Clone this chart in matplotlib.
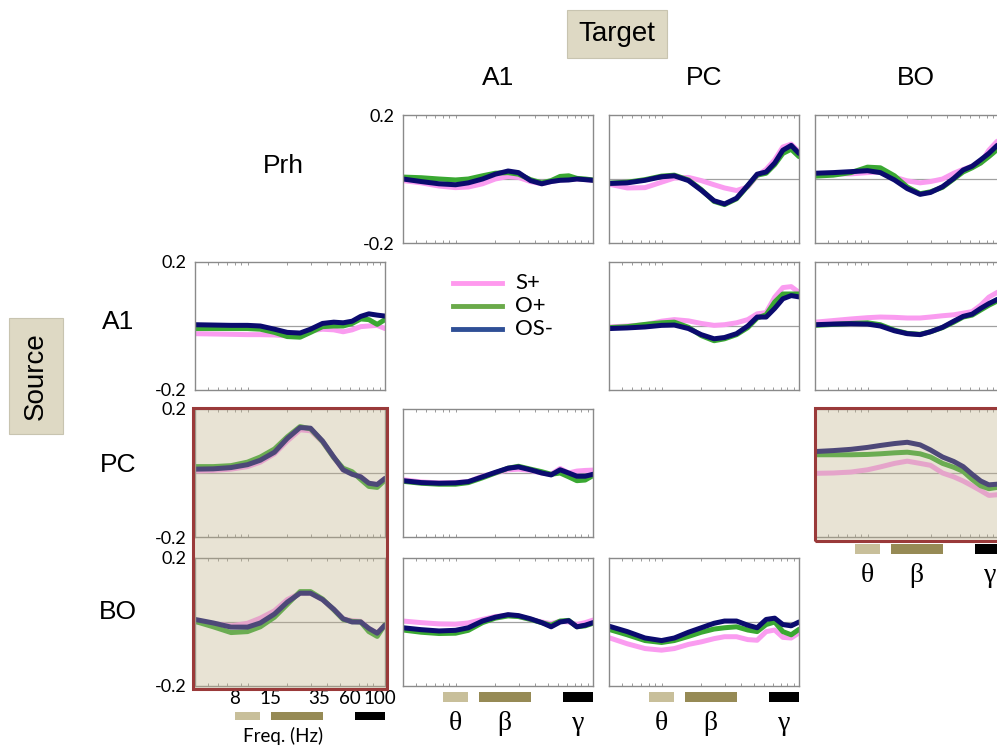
import matplotlib
matplotlib.use("Agg")
import matplotlib.pyplot as plt
import matplotlib.patches as mpatches
from matplotlib.lines import Line2D

# frequency grid (Hz) shared by every curve
freqs = [4, 5.5, 7.5, 10, 12.5, 16, 20, 25, 30, 37, 45, 53, 62, 72, 83, 96, 110]

# source Prh
prh_a1_s = [-0.005, -0.012, -0.022, -0.027, -0.025, -0.015, 0.0, 0.008, 0.005, -0.008, -0.015, -0.008, -0.003, -0.002, 0.0, -0.002, -0.005]
prh_a1_o = [0.006, 0.004, 0.0, -0.003, 0.0, 0.01, 0.018, 0.02, 0.015, -0.002, -0.012, -0.005, 0.008, 0.01, 0.002, 0.0, -0.003]
prh_a1_os = [0.0, -0.008, -0.015, -0.018, -0.012, 0.0, 0.015, 0.025, 0.02, -0.005, -0.015, -0.008, -0.004, -0.003, 0.0, -0.002, -0.004]

prh_pc_s = [-0.016, -0.028, -0.027, -0.01, 0.003, 0.005, -0.005, -0.018, -0.028, -0.036, -0.025, 0.01, 0.03, 0.06, 0.1, 0.109, 0.085]
prh_pc_o = [-0.013, -0.01, -0.002, 0.009, 0.012, -0.003, -0.033, -0.07, -0.08, -0.062, -0.022, 0.012, 0.018, 0.045, 0.08, 0.093, 0.07]
prh_pc_os = [-0.014, -0.012, -0.004, 0.007, 0.01, -0.005, -0.035, -0.068, -0.078, -0.06, -0.02, 0.015, 0.022, 0.05, 0.09, 0.105, 0.08]

prh_bo_s = [0.016, 0.016, 0.016, 0.02, 0.022, 0.006, -0.006, -0.012, -0.008, 0.0, 0.018, 0.03, 0.04, 0.05, 0.09, 0.118, 0.12]
prh_bo_o = [0.009, 0.012, 0.02, 0.037, 0.035, 0.01, -0.025, -0.046, -0.04, -0.026, 0.0, 0.022, 0.035, 0.05, 0.07, 0.092, 0.1]
prh_bo_os = [0.018, 0.02, 0.023, 0.026, 0.02, -0.003, -0.03, -0.048, -0.042, -0.024, 0.002, 0.028, 0.04, 0.06, 0.08, 0.105, 0.11]

# source A1
a1_prh_s = [-0.024, -0.025, -0.026, -0.027, -0.027, -0.028, -0.031, -0.03, -0.015, -0.01, -0.012, -0.018, -0.012, -0.002, 0.0, 0.002, -0.008]
a1_prh_o = [-0.008, -0.008, -0.008, -0.008, -0.01, -0.02, -0.033, -0.035, -0.02, -0.002, 0.0, 0.0, 0.008, 0.022, 0.02, 0.005, 0.02]
a1_prh_os = [0.004, 0.003, 0.002, 0.002, 0.0, -0.01, -0.02, -0.022, -0.01, 0.008, 0.012, 0.01, 0.015, 0.03, 0.038, 0.034, 0.031]

a1_pc_s = [-0.003, 0.0, 0.004, 0.015, 0.02, 0.016, 0.008, 0.002, 0.004, 0.01, 0.02, 0.038, 0.042, 0.09, 0.12, 0.123, 0.105]
a1_pc_o = [-0.005, -0.002, 0.005, 0.01, 0.012, -0.004, -0.03, -0.046, -0.04, -0.027, -0.005, 0.025, 0.035, 0.075, 0.1, 0.1, 0.1]
a1_pc_os = [-0.008, -0.006, -0.003, 0.002, 0.003, -0.008, -0.027, -0.04, -0.036, -0.024, 0.0, 0.028, 0.028, 0.055, 0.085, 0.095, 0.091]

a1_bo_s = [0.012, 0.017, 0.022, 0.026, 0.028, 0.027, 0.025, 0.025, 0.028, 0.032, 0.035, 0.04, 0.045, 0.065, 0.09, 0.105, 0.11]
a1_bo_o = [0.002, 0.005, 0.008, 0.01, 0.004, -0.013, -0.023, -0.026, -0.018, -0.005, 0.012, 0.028, 0.034, 0.05, 0.065, 0.078, 0.085]
a1_bo_os = [0.004, 0.006, 0.007, 0.006, 0.0, -0.015, -0.024, -0.027, -0.018, -0.004, 0.015, 0.03, 0.037, 0.055, 0.07, 0.083, 0.09]

# source PC
pc_prh_s = [0.006, 0.008, 0.012, 0.02, 0.034, 0.06, 0.1, 0.135, 0.132, 0.097, 0.048, 0.01, -0.002, -0.012, -0.032, -0.036, -0.017]
pc_prh_o = [0.02, 0.02, 0.023, 0.034, 0.05, 0.075, 0.113, 0.145, 0.138, 0.098, 0.048, 0.015, 0.004, -0.02, -0.042, -0.045, -0.022]
pc_prh_os = [0.012, 0.013, 0.017, 0.026, 0.04, 0.065, 0.108, 0.142, 0.14, 0.1, 0.05, 0.01, -0.004, -0.012, -0.032, -0.036, -0.017]

pc_a1_s = [-0.021, -0.028, -0.031, -0.03, -0.027, -0.01, 0.0, 0.01, 0.012, 0.008, 0.0, -0.004, 0.014, 0.0, 0.006, 0.008, 0.009]
pc_a1_o = [-0.026, -0.032, -0.035, -0.035, -0.03, -0.015, 0.0, 0.015, 0.021, 0.012, 0.004, -0.004, 0.0, -0.012, -0.024, -0.022, -0.008]
pc_a1_os = [-0.024, -0.03, -0.032, -0.031, -0.027, -0.012, 0.002, 0.015, 0.019, 0.01, 0.0, -0.006, 0.01, 0.0, -0.01, -0.01, -0.004]

pc_bo_s = [-0.001, 0.0, 0.003, 0.01, 0.019, 0.03, 0.037, 0.03, 0.024, 0.0, -0.012, -0.025, -0.04, -0.055, -0.07, -0.068, -0.06]
pc_bo_o = [0.057, 0.057, 0.057, 0.058, 0.06, 0.063, 0.065, 0.06, 0.05, 0.03, 0.018, 0.005, -0.02, -0.04, -0.049, -0.045, -0.04]
pc_bo_os = [0.067, 0.07, 0.074, 0.08, 0.086, 0.092, 0.096, 0.088, 0.072, 0.05, 0.036, 0.02, -0.004, -0.025, -0.037, -0.035, -0.03]

# source BO
bo_prh_s = [0.0, -0.005, -0.012, -0.004, 0.012, 0.035, 0.07, 0.09, 0.09, 0.07, 0.038, 0.01, 0.004, 0.002, -0.02, -0.035, -0.008]
bo_prh_o = [0.002, -0.015, -0.033, -0.03, -0.015, 0.015, 0.055, 0.095, 0.095, 0.072, 0.038, 0.008, 0.002, 0.0, -0.03, -0.045, -0.008]
bo_prh_os = [0.008, -0.003, -0.016, -0.016, -0.003, 0.025, 0.062, 0.09, 0.09, 0.07, 0.04, 0.01, 0.0, 0.0, -0.02, -0.035, -0.01]

bo_a1_s = [0.003, -0.002, -0.006, -0.007, -0.003, 0.008, 0.017, 0.021, 0.018, 0.008, 0.0, -0.005, 0.002, 0.0, -0.008, -0.002, 0.006]
bo_a1_o = [-0.025, -0.032, -0.036, -0.035, -0.026, -0.002, 0.012, 0.019, 0.017, 0.008, -0.002, -0.01, 0.003, 0.005, -0.015, -0.012, -0.004]
bo_a1_os = [-0.018, -0.024, -0.028, -0.026, -0.018, 0.003, 0.015, 0.023, 0.02, 0.01, -0.002, -0.015, 0.0, 0.004, -0.015, -0.01, -0.002]

bo_pc_s = [-0.049, -0.068, -0.083, -0.088, -0.083, -0.07, -0.062, -0.052, -0.046, -0.046, -0.055, -0.057, -0.03, -0.025, -0.048, -0.05, -0.034]
bo_pc_o = [-0.023, -0.04, -0.058, -0.064, -0.058, -0.045, -0.032, -0.022, -0.018, -0.015, -0.025, -0.03, -0.008, 0.0, -0.03, -0.04, -0.023]
bo_pc_os = [-0.013, -0.03, -0.05, -0.058, -0.05, -0.032, -0.018, -0.004, 0.003, 0.003, -0.01, -0.018, 0.008, 0.012, -0.008, -0.012, 0.0]

regions = ["Prh", "A1", "PC", "BO"]
conditions = ["S+", "O+", "OS-"]
bands = [("\u03b8", 8, 12.5), ("\u03b2", 15, 37), ("\u03b3", 65, 110)]
freq_ticks = [8, 15, 35, 60, 100]

panels = {
    ("Prh", "A1"): (prh_a1_s, prh_a1_o, prh_a1_os),
    ("Prh", "PC"): (prh_pc_s, prh_pc_o, prh_pc_os),
    ("Prh", "BO"): (prh_bo_s, prh_bo_o, prh_bo_os),
    ("A1", "Prh"): (a1_prh_s, a1_prh_o, a1_prh_os),
    ("A1", "PC"): (a1_pc_s, a1_pc_o, a1_pc_os),
    ("A1", "BO"): (a1_bo_s, a1_bo_o, a1_bo_os),
    ("PC", "Prh"): (pc_prh_s, pc_prh_o, pc_prh_os),
    ("PC", "A1"): (pc_a1_s, pc_a1_o, pc_a1_os),
    ("PC", "BO"): (pc_bo_s, pc_bo_o, pc_bo_os),
    ("BO", "Prh"): (bo_prh_s, bo_prh_o, bo_prh_os),
    ("BO", "A1"): (bo_a1_s, bo_a1_o, bo_a1_os),
    ("BO", "PC"): (bo_pc_s, bo_pc_o, bo_pc_os),
}

line_colors = ["#fa9cf0", "#3aa832", "#0b0b6e"]
legend_colors = ["#ff99ee", "#6aaa4a", "#2f4f96"]
band_colors = ["#c8bf9a", "#968a55", "#000000"]

W, H = 997, 747


def rect(x0, y0, x1, y1):
    # pixel box (top-left origin) -> figure fraction [l, b, w, h]
    return [x0 / W, 1 - y1 / H, (x1 - x0) / W, (y1 - y0) / H]


col_x = {"Prh": 195, "A1": 403, "PC": 609, "BO": 815}
row_y = {"Prh": 115, "A1": 262, "PC": 409, "BO": 558}
pw, ph = 190, 128

fig = plt.figure(figsize=(W / 100, H / 100), dpi=100)

for (src, tgt), series in panels.items():
    x0, y0 = col_x[tgt], row_y[src]
    ax = fig.add_axes(rect(x0, y0, x0 + pw, y0 + ph))
    ax.set_xscale("log")
    ax.set_xlim(4, 110)
    ax.set_ylim(-0.2, 0.2)
    ax.axhline(0, color="#a0a0a0", lw=0.9, zorder=1)
    for vals, c in zip(series, line_colors):
        ax.plot(freqs, vals, color=c, lw=3.6, solid_capstyle="round",
                solid_joinstyle="round", zorder=2)
    for sp in ax.spines.values():
        sp.set_color("#8a8a8a")
        sp.set_linewidth(1.0)
    ax.set_xticks([5, 6, 7, 8, 9, 10, 20, 30, 40, 50, 60, 70, 80, 90, 100], minor=True)
    ax.tick_params(axis="x", which="minor", direction="in", length=2.5, width=0.6,
                   color="#8a8a8a", top=True, bottom=True, labelbottom=False)
    if (src, tgt) == ("BO", "Prh"):
        ax.set_xticks(freq_ticks)
        ax.set_xticklabels([str(f) for f in freq_ticks], fontsize=13.5, family="Lato")
        ax.tick_params(axis="x", which="major", length=0, pad=3)
    else:
        ax.set_xticks([])
    if tgt == "Prh" or (src, tgt) == ("Prh", "A1"):
        ax.set_yticks([-0.2, 0.2])
        ax.set_yticklabels(["-0.2", "0.2"], fontsize=13, family="Lato")
        ax.tick_params(axis="y", length=0, pad=6)
    else:
        ax.set_yticks([])
    ax.set_facecolor("white")


def band_axes(x0, y0, y1, label_y, greek):
    bx = fig.add_axes(rect(x0, y0, x0 + pw, y1))
    bx.set_xscale("log")
    bx.set_xlim(4, 110)
    bx.set_ylim(0, 1)
    bx.axis("off")
    for (name, lo, hi), c in zip(bands, band_colors):
        bx.barh(0.5, hi - lo, left=lo, height=1.0, color=c)
        if greek:
            bx.text((lo * hi) ** 0.5, label_y, name, transform=bx.get_xaxis_transform(),
                    ha="center", va="center", fontsize=20, family="Liberation Serif")
    return bx


band_axes(col_x["Prh"], 712, 720, 0, False)
band_axes(col_x["A1"], 692, 702, -2.2, True)
band_axes(col_x["PC"], 692, 702, -2.2, True)
band_axes(col_x["BO"], 544, 554, -2.2, True)

fig.text(283 / W, 1 - 736 / H, "Freq. (Hz)", ha="center", va="center", fontsize=13.5, family="Lato")

# highlighted panels: translucent beige overlay with dark red border
for x0, y0, x1, y1 in [(193, 408, 387, 689), (815, 408, 1010, 541)]:
    l, b, w, h = rect(x0, y0, x1, y1)
    fig.patches.append(mpatches.Rectangle((l, b), w, h, transform=fig.transFigure,
                                          facecolor=(0.757, 0.702, 0.545, 0.37),
                                          edgecolor="none", zorder=5))
    fig.patches.append(mpatches.Rectangle((l, b), w, h, transform=fig.transFigure,
                                          facecolor="none", edgecolor="#9a3a3a",
                                          lw=2.2, zorder=6))

# titles
title_font = dict(fontsize=19, family="Liberation Sans", ha="center", va="center")
for name, x in [("A1", 498), ("PC", 704), ("BO", 916)]:
    fig.text(x / W, 1 - 78 / H, name, **title_font)
fig.text(283 / W, 1 - 166 / H, "Prh", **title_font)
for name, y in [("A1", 322), ("PC", 465), ("BO", 612)]:
    fig.text(118 / W, 1 - y / H, name, **title_font)

fig.text(617 / W, 1 - 34 / H, "Target", fontsize=20, family="Liberation Sans",
         ha="center", va="center",
         bbox=dict(boxstyle="square,pad=0.4", facecolor="#ded9c4", edgecolor="#c8c4b0", lw=0.8))
fig.text(36 / W, 1 - 376 / H, "Source", fontsize=20, family="Liberation Sans",
         ha="center", va="center", rotation=90,
         bbox=dict(boxstyle="square,pad=0.5", facecolor="#ded9c4", edgecolor="#c8c4b0", lw=0.8))

# legend
for cond, c, y in zip(conditions, legend_colors, [283, 306, 329]):
    fig.add_artist(Line2D([453 / W, 502 / W], [1 - y / H, 1 - y / H], color=c, lw=3.5))
    fig.text(515 / W, 1 - y / H, cond, fontsize=16, family="Lato", ha="left", va="center")

fig.savefig("out.png", dpi=100)
